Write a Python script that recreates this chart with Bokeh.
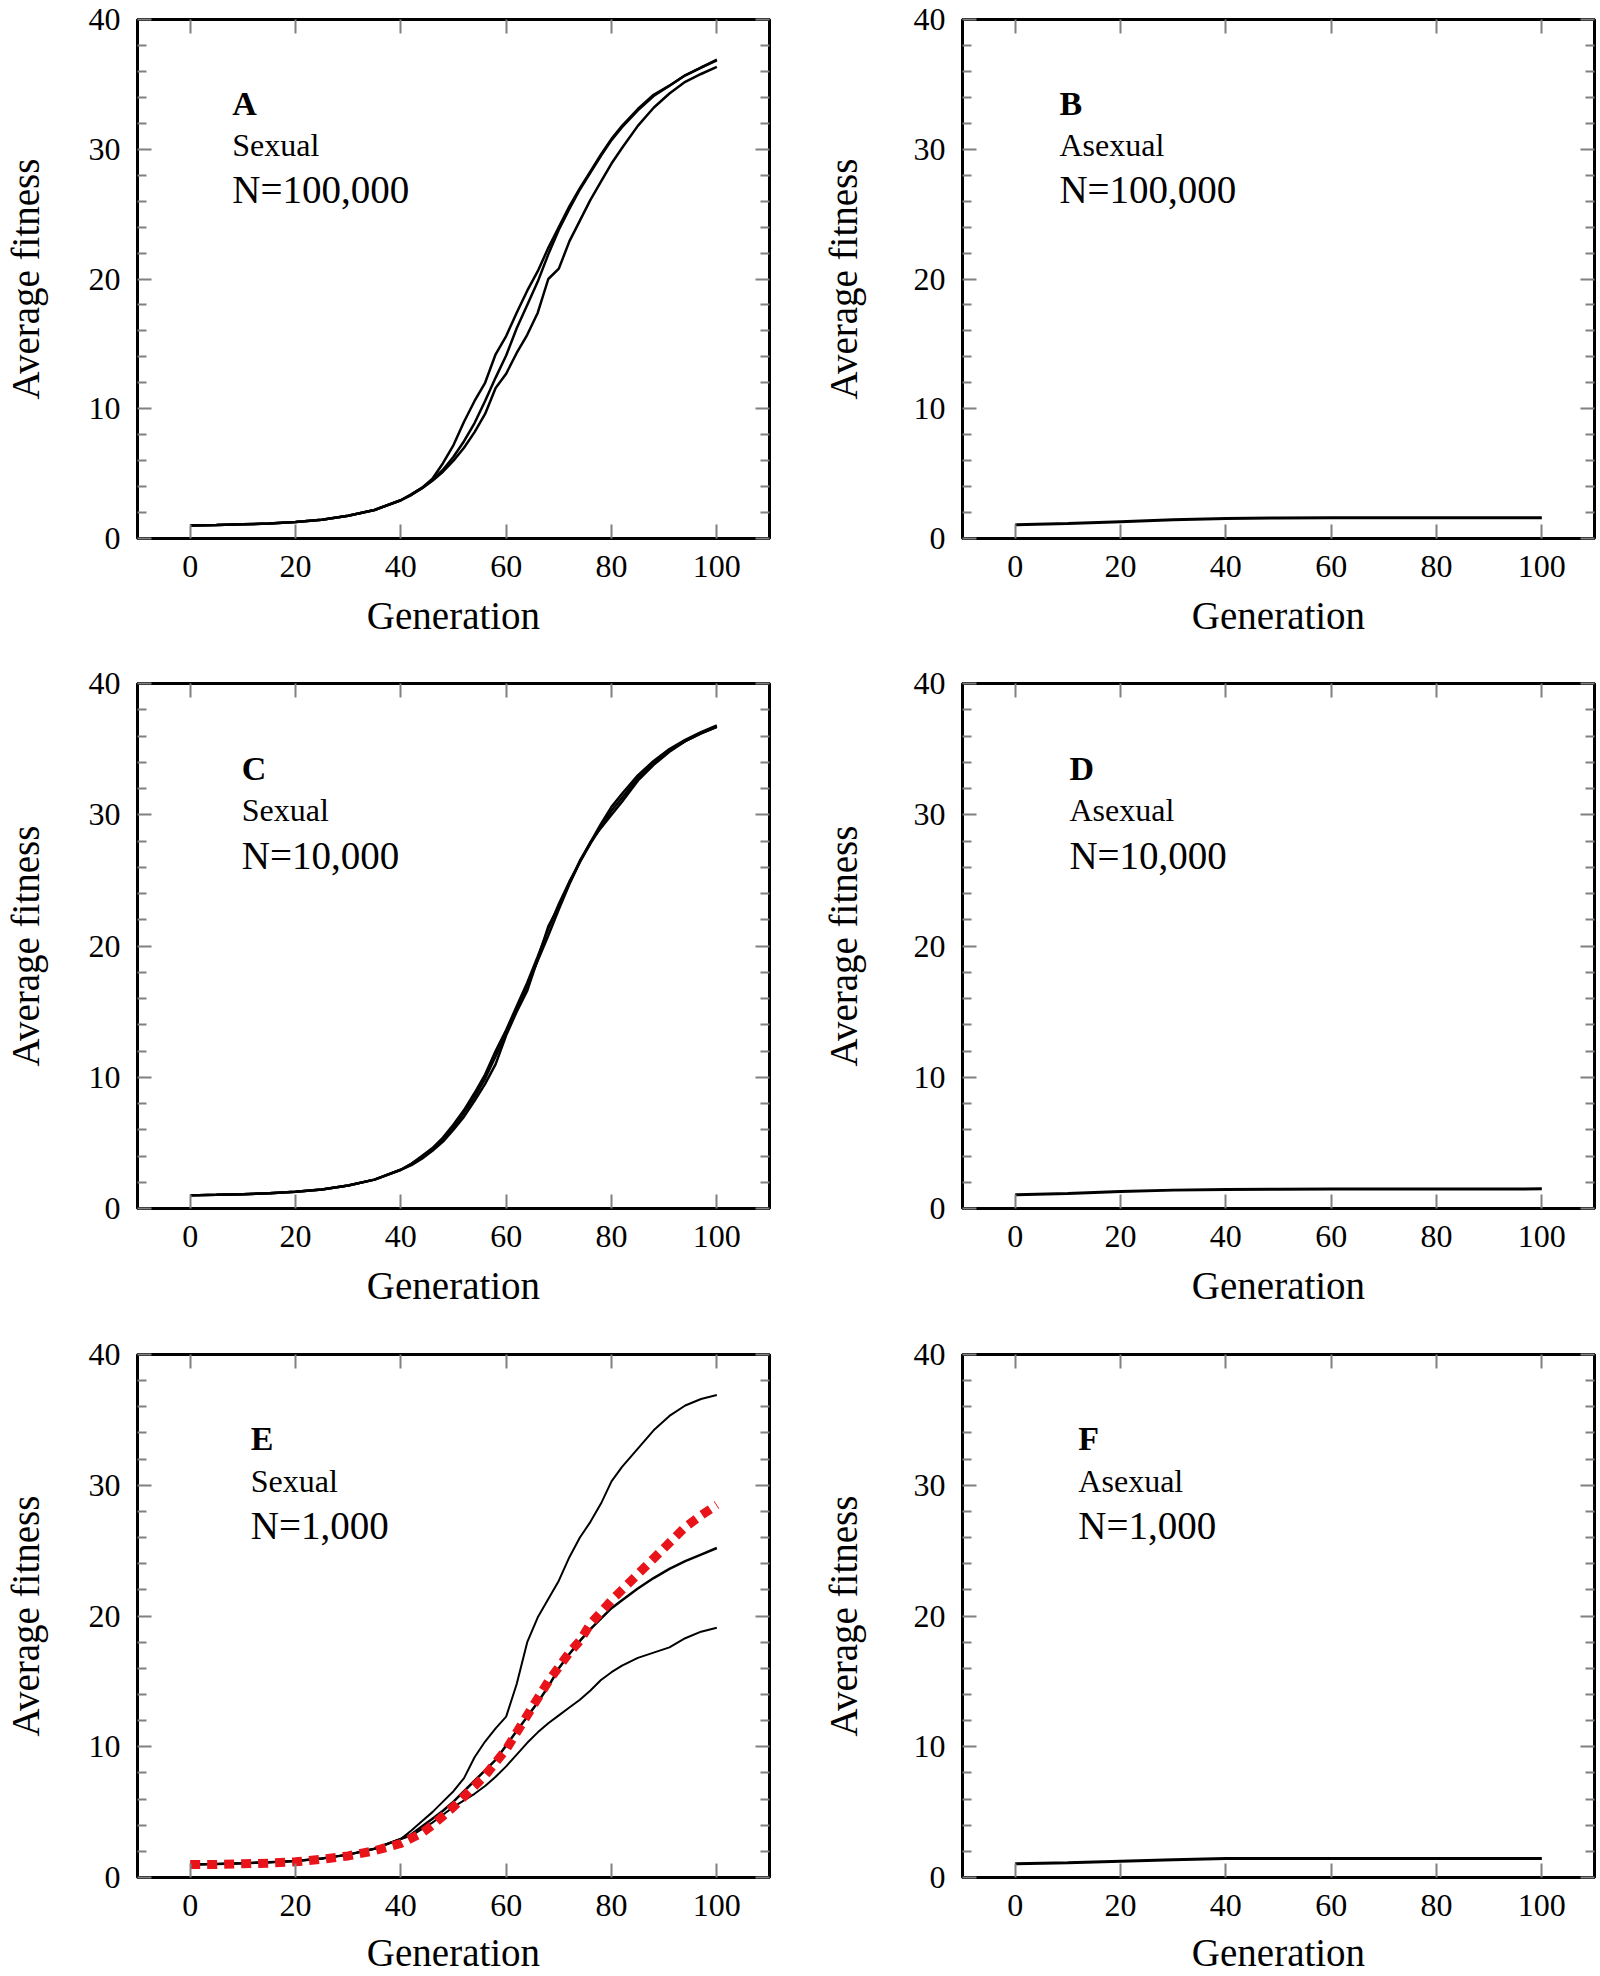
from bokeh.plotting import figure
from bokeh.models import LinearAxis, FixedTicker, Range1d, Label
from bokeh.layouts import gridplot
from bokeh.embed import file_html
from bokeh.resources import INLINE

FONT = "Liberation Serif"

# ---------------- data ----------------
gens = [0, 5, 10, 15, 20, 25, 30, 35, 40, 42, 44, 46, 48, 50, 52, 54, 56, 58, 60,
        62, 64, 66, 68, 70, 72, 74, 76, 78, 80, 82, 85, 88, 91, 94, 97, 100]

early = [1.0, 1.04, 1.09, 1.16, 1.27, 1.45, 1.75, 2.2, 2.95]

a_run1 = early + [3.4, 3.9, 4.6, 5.8, 7.2, 9.0, 10.6, 12.0, 14.2, 15.6, 17.4, 19.1, 20.6, 22.4,
                  24.0, 25.6, 27.0, 28.3, 29.6, 30.8, 31.8, 33.1, 34.2, 34.9, 35.7, 36.3, 36.85]
a_run2 = early + [3.4, 3.9, 4.5, 5.3, 6.3, 7.5, 8.9, 10.6, 12.4, 14.1, 16.2, 18.0, 19.8, 21.9,
                  23.8, 25.4, 26.9, 28.2, 29.5, 30.7, 31.7, 33.0, 34.1, 34.9, 35.7, 36.3, 36.9]
a_run3 = early + [3.35, 3.85, 4.45, 5.15, 6.0, 7.0, 8.2, 9.6, 11.6, 12.7, 14.3, 15.7, 17.4, 20.0,
                  20.8, 22.9, 24.5, 26.1, 27.5, 28.9, 30.1, 31.8, 33.2, 34.3, 35.2, 35.8, 36.35]

c_run1 = early + [3.4, 4.0, 4.6, 5.4, 6.4, 7.5, 8.8, 10.2, 12.0, 13.6, 15.4, 17.2, 19.2, 21.3,
                  23.2, 24.9, 26.4, 27.8, 29.1, 30.3, 31.3, 32.8, 33.9, 34.9, 35.6, 36.2, 36.7]
c_run2 = early + [3.3, 3.8, 4.4, 5.1, 6.0, 7.0, 8.2, 9.5, 11.0, 13.2, 15.0, 16.6, 19.0, 21.5,
                  23.0, 24.8, 26.5, 27.9, 29.3, 30.6, 31.6, 33.0, 34.1, 35.0, 35.7, 36.3, 36.8]
c_run3 = early + [3.4, 3.9, 4.5, 5.3, 6.2, 7.3, 8.5, 9.9, 11.6, 13.4, 15.2, 17.0, 18.9, 20.8,
                  22.8, 24.7, 26.4, 27.9, 29.0, 30.0, 31.0, 32.6, 33.8, 34.8, 35.6, 36.2, 36.7]

e_run1 = early + [3.6, 4.3, 5.0, 5.8, 6.6, 7.6, 9.2, 10.4, 11.4, 12.3, 14.8, 18.0, 19.9, 21.3,
                  22.7, 24.5, 26.0, 27.2, 28.6, 30.3, 31.4, 32.8, 34.2, 35.3, 36.1, 36.6, 36.9]
e_run2 = early + [3.3, 3.9, 4.5, 5.1, 5.8, 6.6, 7.4, 8.2, 9.0, 10.1, 11.2, 12.3, 13.4, 14.6,
                  16.0, 17.1, 18.1, 19.0, 19.8, 20.6, 21.2, 22.1, 22.9, 23.6, 24.2, 24.7, 25.2]
e_run3 = early + [3.2, 3.7, 4.2, 4.8, 5.4, 5.9, 6.4, 7.0, 7.7, 8.5, 9.4, 10.3, 11.1, 11.8,
                  12.4, 13.0, 13.6, 14.3, 15.1, 15.7, 16.2, 16.8, 17.2, 17.6, 18.3, 18.8, 19.1]
e_mean = [1.0, 1.0, 1.05, 1.1, 1.2, 1.4, 1.65, 2.05, 2.6, 3.0, 3.4, 4.0, 4.7, 5.4, 6.2, 7.0,
          7.8, 8.8, 9.8, 11.1, 12.4, 13.7, 15.0, 16.1, 17.2, 18.1, 19.4, 20.3, 21.2, 22.0,
          23.2, 24.4, 25.6, 26.8, 27.7, 28.5]

gens_asex = [0, 10, 20, 30, 40, 50, 60, 70, 80, 90, 100]
b_asex = [1.05, 1.15, 1.3, 1.45, 1.55, 1.58, 1.6, 1.6, 1.6, 1.6, 1.6]
d_asex = [1.05, 1.15, 1.3, 1.4, 1.45, 1.47, 1.48, 1.48, 1.48, 1.48, 1.5]
f_asex = [1.05, 1.12, 1.25, 1.35, 1.45, 1.45, 1.45, 1.45, 1.45, 1.45, 1.45]

x_ticks = [0, 20, 40, 60, 80, 100]
y_ticks = [0, 10, 20, 30, 40]
y_minor = [v for v in range(2, 40, 2) if v % 10 != 0]

panels = [
    ("A", "Sexual", "N=100,000", [a_run1, a_run2, a_run3], None),
    ("B", "Asexual", "N=100,000", [b_asex], None),
    ("C", "Sexual", "N=10,000", [c_run1, c_run2, c_run3], None),
    ("D", "Asexual", "N=10,000", [d_asex], None),
    ("E", "Sexual", "N=1,000", [e_run1, e_run2, e_run3], e_mean),
    ("F", "Asexual", "N=1,000", [f_asex], None),
]
label_x = [8.0, 8.4, 9.8, 10.3, 11.5, 12.0]

TICK_COL = "#808080"


def make_axis(show_labels, ticker, **kw):
    ax = LinearAxis(ticker=ticker)
    ax.axis_line_color = None
    ax.major_tick_line_color = TICK_COL
    ax.minor_tick_line_color = TICK_COL
    ax.major_tick_line_width = 2
    ax.minor_tick_line_width = 2
    ax.major_tick_in = 14
    ax.major_tick_out = 0
    ax.minor_tick_in = 9
    ax.minor_tick_out = 0
    if show_labels:
        ax.major_label_text_font = FONT
        ax.major_label_text_font_size = "32px"
        ax.major_label_text_color = "black"
        ax.axis_label_text_font = FONT
        ax.axis_label_text_font_size = "39px"
        ax.axis_label_text_font_style = "normal"
        ax.axis_label_text_color = "black"
    else:
        ax.major_label_text_font_size = "0px"
        ax.major_label_standoff = 0
    for k, v in kw.items():
        setattr(ax, k, v)
    return ax


# page layout (page has no margin): row heights and column widths
row_h = [664, 671, 641]
row_bt = [19, 19, 19]
row_bb = [126, 127, 97]
row_xls = [14, 14, 12]
col_w = [818, 781]
col_bl = [137, 144]
col_br = [49, 5]
col_yls = [39, 46]

figs = []
for i, (letter, mode, pop, runs, mean) in enumerate(panels):
    col = i % 2
    row = i // 2
    p = figure(width=col_w[col], height=row_h[row], x_range=Range1d(-10, 110),
               y_range=Range1d(0, 40), output_backend="svg", toolbar_location=None,
               x_axis_type=None, y_axis_type=None,
               min_border_left=col_bl[col], min_border_right=col_br[col],
               min_border_top=row_bt[row], min_border_bottom=row_bb[row])
    p.outline_line_color = "black"
    p.outline_line_width = 3
    p.background_fill_color = "white"
    p.border_fill_color = "white"

    xt = FixedTicker(ticks=x_ticks, minor_ticks=[])
    yt = FixedTicker(ticks=y_ticks, minor_ticks=y_minor)
    p.add_layout(make_axis(True, xt, axis_label="Generation", major_label_standoff=17,
                           axis_label_standoff=row_xls[row]), "below")
    p.add_layout(make_axis(False, xt), "above")
    p.add_layout(make_axis(True, yt, axis_label="Average fitness", major_label_standoff=17,
                           axis_label_standoff=col_yls[col]), "left")
    p.add_layout(make_axis(False, yt), "right")

    if len(runs) == 1:
        p.line(gens_asex, runs[0], line_color="black", line_width=3)
    else:
        lw = [2.5, 2.5, 2.5] if letter != "E" else [2, 2.5, 2]
        for r, w in zip(runs, lw):
            p.line(gens, r, line_color="black", line_width=w)
    if mean is not None:
        p.line(gens, mean, line_color="#e8141a", line_width=9, line_dash="10 7")

    lx = label_x[i]
    p.add_layout(Label(x=lx, y=33.55, text=letter, text_font=FONT, text_font_style="bold",
                       text_font_size="34px", text_baseline="alphabetic", text_color="black"))
    p.add_layout(Label(x=lx, y=30.35, text=mode, text_font=FONT,
                       text_font_size="32px", text_baseline="alphabetic", text_color="black"))
    p.add_layout(Label(x=lx, y=26.9, text=pop, text_font=FONT,
                       text_font_size="39px", text_baseline="alphabetic", text_color="black"))
    figs.append(p)

grid = gridplot([[figs[0], figs[1]], [figs[2], figs[3]], [figs[4], figs[5]]],
                toolbar_location=None)

open("out.html", "w").write(file_html(grid, INLINE))
